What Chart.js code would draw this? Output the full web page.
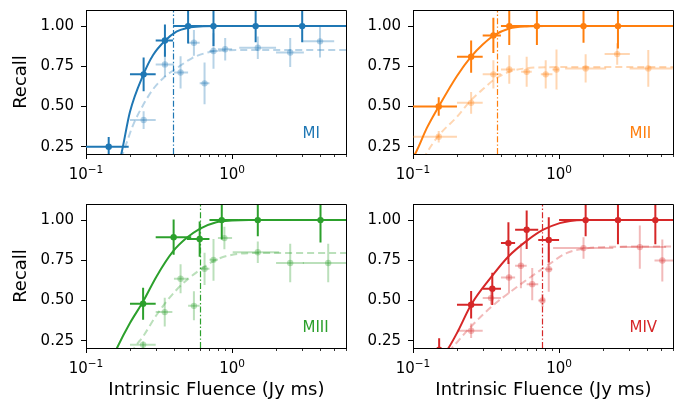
<!DOCTYPE html>
<html><head><meta charset="utf-8">
<script src="https://cdn.jsdelivr.net/npm/chart.js@4.4.1/dist/chart.umd.min.js"></script>
<style>
html,body{margin:0;padding:0;background:#fff;overflow:hidden;width:674px;height:401px;position:relative;}
canvas{position:absolute;display:block;}
</style></head><body>
<canvas id="c0"></canvas><canvas id="c1"></canvas><canvas id="c2"></canvas><canvas id="c3"></canvas>
<script>
// ---------------- DATA ----------------
const panelNames = ['MI', 'MII', 'MIII', 'MIV'];
const panelColors = ['#1f77b4', '#ff7f0e', '#2ca02c', '#d62728'];
const thresholds = [0.394, 0.374, 0.605, 0.767];
const yTickValues = [0.25, 0.50, 0.75, 1.00];
const xTickValues = [0.1, 0.2, 0.3, 0.4, 0.5, 0.6, 0.7, 0.8, 0.9, 1, 2, 3, 4, 5, 6];
const xMajorTicks = [0.1, 1];
const xMajorBase = ['10', '10'];
const xMajorExp = ['\u22121', '0'];
const yTitle = 'Recall';
const xTitle = 'Intrinsic Fluence (Jy ms)';

// MI
const miSolidX = [0.143, 0.248, 0.347, 0.50, 0.746, 1.45, 3.02];
const miSolidY = [0.25, 0.70, 0.91, 1.0, 1.0, 1.0, 1.0];
const miSolidXLo = [0.1, 0.2, 0.3, 0.394, 0.63, 1.0, 2.2];
const miSolidXHi = [0.196, 0.3, 0.394, 0.63, 1.0, 2.2, 4.5];
const miSolidYErr = [0.06, 0.105, 0.1, 0.108, 0.124, 0.10, 0.10];
const miFadedX = [0.248, 0.347, 0.444, 0.548, 0.648, 0.746, 0.897, 1.5, 2.5, 4.0];
const miFadedY = [0.416, 0.762, 0.712, 0.896, 0.644, 0.845, 0.856, 0.865, 0.836, 0.905];
const miFadedXLo = [0.2, 0.3, 0.4, 0.5, 0.6, 0.7, 0.8, 1.12, 2.0, 3.05];
const miFadedXHi = [0.3, 0.4, 0.5, 0.6, 0.7, 0.8, 1.0, 2.0, 3.1, 5.0];
const miFadedYErr = [0.055, 0.078, 0.1, 0.08, 0.13, 0.11, 0.07, 0.07, 0.09, 0.1];
const miFitX = [0.168, 0.175, 0.2, 0.246, 0.288, 0.346, 0.416, 0.5, 0.6, 0.8, 1.2, 6.5];
const miFitY = [0.15, 0.21, 0.467, 0.695, 0.82, 0.907, 0.965, 0.99, 0.998, 1.0, 1.0, 1.0];
const miFadedFitX = [0.172, 0.178, 0.184, 0.21, 0.246, 0.288, 0.346, 0.425, 0.53, 0.68, 0.85, 1.2, 6.5];
const miFadedFitY = [0.18, 0.205, 0.24, 0.385, 0.509, 0.608, 0.685, 0.743, 0.80, 0.836, 0.848, 0.851, 0.851];

// MII
const miiSolidX = [0.150, 0.25, 0.355, 0.456, 0.705, 1.47, 2.53];
const miiSolidY = [0.50, 0.81, 0.942, 1.0, 1.0, 1.0, 1.0];
const miiSolidXLo = [0.1, 0.2, 0.3, 0.4, 0.63, 1.0, 2.0];
const miiSolidXHi = [0.2, 0.3, 0.4, 0.63, 1.0, 2.0, 4.0];
const miiSolidYErr = [0.058, 0.1, 0.11, 0.118, 0.118, 0.104, 0.14];
const miiFadedX = [0.15, 0.25, 0.355, 0.456, 0.6, 0.81, 0.96, 1.52, 2.5, 4.08];
const miiFadedY = [0.312, 0.523, 0.70, 0.73, 0.716, 0.70, 0.73, 0.737, 0.826, 0.737];
const miiFadedXLo = [0.1, 0.2, 0.3, 0.4, 0.55, 0.75, 0.9, 1.1, 2.05, 3.04];
const miiFadedXHi = [0.2, 0.3, 0.4, 0.5, 0.65, 0.9, 1.0, 2.1, 3.05, 6.0];
const miiFadedYErr = [0.036, 0.068, 0.088, 0.088, 0.093, 0.088, 0.124, 0.088, 0.067, 0.114];
const miiFitX = [0.1, 0.104, 0.124, 0.15, 0.2, 0.25, 0.3, 0.355, 0.456, 0.6, 0.8, 1.2, 6.5];
const miiFitY = [0.19, 0.21, 0.364, 0.50, 0.69, 0.81, 0.885, 0.94, 0.985, 0.998, 1.0, 1.0, 1.0];
const miiFadedFitX = [0.118, 0.124, 0.15, 0.2, 0.25, 0.303, 0.355, 0.456, 0.6, 1.0, 6.5];
const miiFadedFitY = [0.17, 0.21, 0.32, 0.436, 0.54, 0.61, 0.664, 0.716, 0.738, 0.745, 0.745];

// MIII
const miiiSolidX = [0.246, 0.398, 0.6, 0.85, 1.5, 4.03];
const miiiSolidY = [0.48, 0.894, 0.882, 1.0, 1.0, 1.0];
const miiiSolidXLo = [0.2, 0.3, 0.49, 0.7, 1.1, 2.5];
const miiiSolidXHi = [0.3, 0.525, 0.7, 1.1, 2.5, 6.1];
const miiiSolidYErr = [0.1, 0.11, 0.11, 0.12, 0.10, 0.14];
const miiiFadedX = [0.246, 0.346, 0.444, 0.548, 0.648, 0.746, 0.886, 1.5, 2.5, 4.55];
const miiiFadedY = [0.225, 0.428, 0.635, 0.467, 0.697, 0.753, 0.888, 0.80, 0.733, 0.733];
const miiiFadedXLo = [0.2, 0.3, 0.4, 0.5, 0.6, 0.7, 0.8, 1.01, 2.0, 3.05];
const miiiFadedXHi = [0.3, 0.39, 0.5, 0.6, 0.7, 0.8, 1.0, 2.1, 3.1, 6.1];
const miiiFadedYErr = [0.02, 0.09, 0.09, 0.09, 0.1, 0.13, 0.07, 0.067, 0.12, 0.12];
const miiiFitX = [0.155, 0.163, 0.2, 0.246, 0.304, 0.394, 0.487, 0.6, 0.78, 1.0, 1.3, 6.5];
const miiiFitY = [0.16, 0.205, 0.36, 0.494, 0.65, 0.805, 0.888, 0.946, 0.987, 0.997, 1.0, 1.0];
const miiiFadedFitX = [0.205, 0.216, 0.246, 0.304, 0.417, 0.6, 0.81, 1.1, 1.5, 6.5];
const miiiFadedFitY = [0.17, 0.21, 0.277, 0.41, 0.567, 0.69, 0.76, 0.79, 0.795, 0.795];

// MIV
const mivSolidX = [0.151, 0.25, 0.349, 0.45, 0.6, 0.85, 1.52, 2.53, 4.56];
const mivSolidY = [0.195, 0.474, 0.573, 0.857, 0.94, 0.877, 1.0, 1.0, 1.0];
const mivSolidXLo = [0.1, 0.2, 0.3, 0.4, 0.5, 0.72, 1.0, 2.05, 3.0];
const mivSolidXHi = [0.2, 0.3, 0.4, 0.5, 0.72, 1.0, 2.05, 3.0, 6.1];
const mivSolidYErr = [0.07, 0.085, 0.1, 0.13, 0.12, 0.14, 0.10, 0.15, 0.15];
const mivFadedX = [0.25, 0.342, 0.454, 0.548, 0.655, 0.77, 0.85, 1.47, 3.57, 5.09];
const mivFadedY = [0.312, 0.515, 0.643, 0.716, 0.602, 0.50, 0.695, 0.826, 0.832, 0.749];
const mivFadedXLo = [0.2, 0.3, 0.4, 0.5, 0.6, 0.72, 0.8, 0.91, 2.6, 4.5];
const mivFadedXHi = [0.3, 0.4, 0.5, 0.6, 0.72, 0.8, 0.9, 2.35, 5.4, 6.1];
const mivFadedYErr = [0.045, 0.04, 0.1, 0.14, 0.1, 0.04, 0.14, 0.067, 0.135, 0.13];
const mivFitX = [0.165, 0.175, 0.2, 0.25, 0.346, 0.45, 0.6, 0.78, 1.01, 1.19, 1.5, 6.5];
const mivFitY = [0.175, 0.205, 0.298, 0.474, 0.65, 0.774, 0.871, 0.94, 0.981, 0.995, 1.0, 1.0];
const mivFadedFitX = [0.175, 0.185, 0.25, 0.346, 0.461, 0.632, 0.843, 1.125, 1.5, 2.2, 6.5];
const mivFadedFitY = [0.18, 0.205, 0.339, 0.463, 0.552, 0.643, 0.722, 0.795, 0.822, 0.834, 0.836];

// -------------- BUILD --------------
const panels = [
  {solid:{x:miSolidX,y:miSolidY,xlo:miSolidXLo,xhi:miSolidXHi,yerr:miSolidYErr},
   faded:{x:miFadedX,y:miFadedY,xlo:miFadedXLo,xhi:miFadedXHi,yerr:miFadedYErr},
   fit:[miFitX,miFitY], fadedFit:[miFadedFitX,miFadedFitY]},
  {solid:{x:miiSolidX,y:miiSolidY,xlo:miiSolidXLo,xhi:miiSolidXHi,yerr:miiSolidYErr},
   faded:{x:miiFadedX,y:miiFadedY,xlo:miiFadedXLo,xhi:miiFadedXHi,yerr:miiFadedYErr},
   fit:[miiFitX,miiFitY], fadedFit:[miiFadedFitX,miiFadedFitY]},
  {solid:{x:miiiSolidX,y:miiiSolidY,xlo:miiiSolidXLo,xhi:miiiSolidXHi,yerr:miiiSolidYErr},
   faded:{x:miiiFadedX,y:miiiFadedY,xlo:miiiFadedXLo,xhi:miiiFadedXHi,yerr:miiiFadedYErr},
   fit:[miiiFitX,miiiFitY], fadedFit:[miiiFadedFitX,miiiFadedFitY]},
  {solid:{x:mivSolidX,y:mivSolidY,xlo:mivSolidXLo,xhi:mivSolidXHi,yerr:mivSolidYErr},
   faded:{x:mivFadedX,y:mivFadedY,xlo:mivFadedXLo,xhi:mivFadedXHi,yerr:mivFadedYErr},
   fit:[mivFitX,mivFitY], fadedFit:[mivFadedFitX,mivFadedFitY]}
];

const layouts = [
  {left:0,   top:0,   w:350, h:190, yW:86, xH:36, yT:true,  xT:false},
  {left:360, top:0,   w:317, h:190, yW:53, xH:36, yT:false, xT:false},
  {left:0,   top:194, w:350, h:207, yW:86, xH:53, yT:true,  xT:true},
  {left:360, top:194, w:317, h:207, yW:53, xH:53, yT:false, xT:true}
];

const FONT = "'DejaVu Sans', sans-serif";
const TICK_SIZE = 15, LABEL_SIZE = 18, SUP_SIZE = 10.5;
const FADE = 0.32;

function rgba(hex, a) {
  const r = parseInt(hex.slice(1,3),16), g = parseInt(hex.slice(3,5),16), b = parseInt(hex.slice(5,7),16);
  return `rgba(${r},${g},${b},${a})`;
}
function pts(xs, ys) { return xs.map((x, i) => ({x: x, y: ys[i]})); }
function near(a, b) { return Math.abs(a - b) < 1e-9 * Math.max(1, Math.abs(b)); }

function drawErr(chart, d, color, lw) {
  const {ctx, chartArea: a, scales: {x, y}} = chart;
  ctx.save();
  ctx.beginPath(); ctx.rect(a.left, a.top, a.right - a.left, a.bottom - a.top); ctx.clip();
  ctx.strokeStyle = color; ctx.lineWidth = lw; ctx.lineCap = 'butt';
  for (let i = 0; i < d.x.length; i++) {
    const px = x.getPixelForValue(d.x[i]), py = y.getPixelForValue(d.y[i]);
    ctx.beginPath();
    ctx.moveTo(x.getPixelForValue(d.xlo[i]), py); ctx.lineTo(x.getPixelForValue(d.xhi[i]), py);
    ctx.stroke();
    ctx.beginPath();
    ctx.moveTo(px, y.getPixelForValue(d.y[i] - d.yerr[i])); ctx.lineTo(px, y.getPixelForValue(d.y[i] + d.yerr[i]));
    ctx.stroke();
  }
  ctx.restore();
}

panels.forEach((p, k) => {
  const L = layouts[k];
  const color = panelColors[k];
  const faded = rgba(color, FADE);
  const cv = document.getElementById('c' + k);
  cv.width = L.w; cv.height = L.h;
  cv.style.left = L.left + 'px'; cv.style.top = L.top + 'px';
  cv.style.width = L.w + 'px'; cv.style.height = L.h + 'px';

  const deco = {
    id: 'deco' + k,
    beforeDatasetsDraw(chart) {
      const {ctx, chartArea: a, scales: {x}} = chart;
      const px = Math.round(x.getPixelForValue(thresholds[k])) + 0.5;
      ctx.save();
      ctx.strokeStyle = color; ctx.lineWidth = 1.2;
      ctx.setLineDash([6, 2.2, 1.4, 2.2]);
      ctx.beginPath(); ctx.moveTo(px, a.bottom); ctx.lineTo(px, a.top); ctx.stroke();
      ctx.restore();
    },
    beforeDatasetDraw(chart, args) {
      if (args.index === 2) drawErr(chart, p.faded, faded, 2);
      if (args.index === 0) drawErr(chart, p.solid, color, 2);
    },
    afterDraw(chart) {
      const {ctx, chartArea: a, scales: {x}} = chart;
      ctx.save();
      // top & right spines
      ctx.strokeStyle = '#000'; ctx.lineWidth = 1;
      const t = Math.round(a.top) + 0.5, r = Math.round(a.right) - 0.5, b = Math.round(a.bottom);
      ctx.beginPath(); ctx.moveTo(Math.round(a.left), t); ctx.lineTo(r, t); ctx.lineTo(r, b); ctx.stroke();
      // minor x ticks
      ctx.lineWidth = 0.8;
      xTickValues.forEach(v => {
        if (xMajorTicks.some(m => near(m, v))) return;
        const px = Math.round(x.getPixelForValue(v)) + 0.5;
        ctx.beginPath(); ctx.moveTo(px, a.bottom); ctx.lineTo(px, a.bottom + 3); ctx.stroke();
      });
      // major x tick labels with superscript exponent
      ctx.fillStyle = '#000';
      ctx.textBaseline = 'alphabetic'; ctx.textAlign = 'left';
      xMajorTicks.forEach((v, i) => {
        const px = x.getPixelForValue(v);
        ctx.font = TICK_SIZE + 'px ' + FONT;
        const wb = ctx.measureText(xMajorBase[i]).width;
        ctx.font = SUP_SIZE + 'px ' + FONT;
        const we = ctx.measureText(xMajorExp[i]).width;
        const x0 = px - (wb + we) / 2;
        const base = a.bottom + 25;
        ctx.font = TICK_SIZE + 'px ' + FONT;
        ctx.fillText(xMajorBase[i], x0, base);
        ctx.font = SUP_SIZE + 'px ' + FONT;
        ctx.fillText(xMajorExp[i], x0 + wb, base - 6.5);
      });
      // panel label
      ctx.fillStyle = color;
      ctx.font = TICK_SIZE + 'px ' + FONT;
      ctx.textAlign = 'left'; ctx.textBaseline = 'middle';
      ctx.fillText(panelNames[k], a.left + 0.83 * (a.right - a.left), a.bottom - 20);
      ctx.restore();
    }
  };

  new Chart(cv, {
    type: 'scatter',
    data: {
      datasets: [
        {data: pts(p.solid.x, p.solid.y), backgroundColor: color, borderColor: color,
         pointRadius: 3.2, pointBorderWidth: 0, pointHoverRadius: 3.2, showLine: false, clip: 0},
        {data: pts(p.fit[0], p.fit[1]), borderColor: color, borderWidth: 2, pointRadius: 0, pointHoverRadius: 0,
         showLine: true, cubicInterpolationMode: 'monotone', clip: 0},
        {data: pts(p.faded.x, p.faded.y), backgroundColor: faded, borderColor: faded,
         pointRadius: 3.2, pointBorderWidth: 0, pointHoverRadius: 3.2, showLine: false, clip: 0},
        {data: pts(p.fadedFit[0], p.fadedFit[1]), borderColor: faded, borderWidth: 2, borderDash: [7, 4],
         pointRadius: 0, pointHoverRadius: 0, showLine: true, cubicInterpolationMode: 'monotone', clip: 0}
      ]
    },
    options: {
      responsive: false, animation: false, events: [],
      layout: {padding: {top: 10, left: 0, right: 2, bottom: 0}},
      plugins: {legend: {display: false}, tooltip: {enabled: false}},
      scales: {
        x: {
          type: 'logarithmic', min: 0.1, max: 6.1,
          afterBuildTicks: s => { s.ticks = xTickValues.map(v => ({value: v, major: xMajorTicks.some(m => near(m, v))})); },
          afterFit: s => { s.height = L.xH; s.paddingLeft = 0; s.paddingRight = 0; },
          ticks: {
            autoSkip: false, maxRotation: 0, minRotation: 0, padding: 8, color: '#000',
            font: {family: FONT, size: TICK_SIZE},
            callback: () => ''
          },
          grid: {drawOnChartArea: false, drawTicks: true, tickLength: 5, tickWidth: 1,
                 tickColor: c => (c.tick && xMajorTicks.some(m => near(m, c.tick.value))) ? '#000' : 'rgba(0,0,0,0)'},
          border: {display: true, color: '#000', width: 1},
          title: {display: L.xT, text: xTitle, color: '#000', font: {family: FONT, size: LABEL_SIZE}, padding: {top: 0, bottom: 0}}
        },
        y: {
          type: 'linear', min: 0.205, max: 1.1,
          afterBuildTicks: s => { s.ticks = yTickValues.map(v => ({value: v})); },
          afterFit: s => { s.width = L.yW; s.paddingTop = 0; s.paddingBottom = 0; },
          ticks: {padding: 7, color: '#000', font: {family: FONT, size: TICK_SIZE},
                  callback: v => Number(v).toFixed(2)},
          grid: {drawOnChartArea: false, drawTicks: true, tickLength: 5, tickWidth: 1, tickColor: '#000'},
          border: {display: true, color: '#000', width: 1},
          title: {display: L.yT, text: yTitle, color: '#000', font: {family: FONT, size: LABEL_SIZE}, padding: {top: 11, bottom: 0}}
        }
      }
    },
    plugins: [deco]
  });
});
</script>
</body></html>
